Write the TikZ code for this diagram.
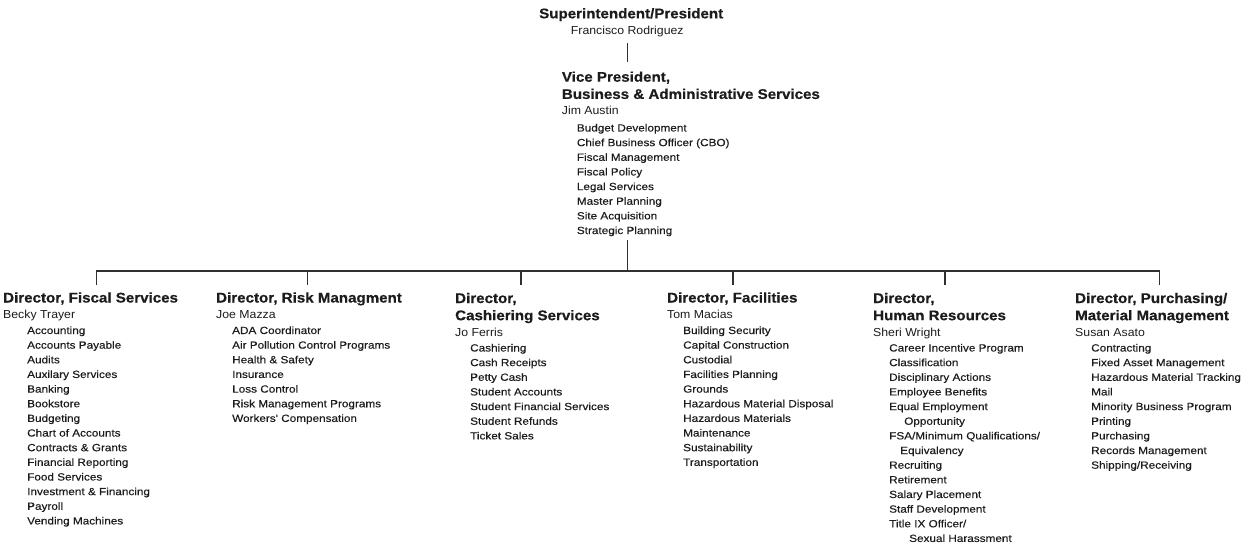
\documentclass[tikz,border=0pt]{standalone}
\usepackage{fontspec}
\setmainfont{Liberation Sans}
\newfontfamily\bossfam[FakeStretch=1.08, BoldFeatures={FakeBold=0.5}]{Liberation Sans}
\newfontfamily\whofam[FakeStretch=1.06]{Liberation Sans}
\newfontfamily\dutyfam[FakeStretch=1.13, FakeBold=0.35]{Liberation Sans}
\definecolor{ink}{HTML}{1C1C1C}
\definecolor{rule}{HTML}{303030}
\newcommand\bossfont{\bossfam\bfseries\fontsize{14}{17.2}\selectfont}
\newcommand\whofont{\whofam\fontsize{11.6}{14}\selectfont}
\newcommand\dutyfont{\dutyfam\fontsize{10.4}{14.65}\selectfont}
% a stack of lines whose baseline is that of its first line
\newcommand\lines[1]{\begin{tabular}[t]{@{}l@{}}#1\end{tabular}}
\tikzset{
  boss/.style={anchor=base west, inner sep=0pt, font=\bossfont, text=ink},
  who/.style={anchor=base west, inner sep=0pt, font=\whofont, text=ink},
  duties/.style={anchor=base west, inner sep=0pt, font=\dutyfont, text=ink},
  link/.style={draw=rule, line width=1.3pt, line join=miter},
}
\begin{document}
\begin{tikzpicture}[x=1pt, y=-1pt]
\useasboundingbox (0,0) rectangle (1258,548);

% Top of the chart
\node[boss] (sup) at (539,18.3) {\lines{Superintendent/President}};
\node[who] (supname) at (570.7,35) {Francisco Rodriguez};

\node[boss] (vp) at (561.7,81.7) {\lines{Vice President,\\Business \& Administrative Services}};
\node[who] (vpname) at (561.7,115) {Jim Austin};
\node[duties] (vpduty) at (576.7,131.5) {\lines{Budget Development\\Chief Business Officer (CBO)\\Fiscal Management\\Fiscal Policy\\Legal Services\\Master Planning\\Site Acquisition\\Strategic Planning}};

% Directors
\node[boss] (d1) at (3,302.5) {\lines{Director, Fiscal Services}};
\node[who] (n1) at (3,318.5) {Becky Trayer};
\node[duties] (u1) at (27,334) {\lines{Accounting\\Accounts Payable\\Audits\\Auxilary Services\\Banking\\Bookstore\\Budgeting\\Chart of Accounts\\Contracts \& Grants\\Financial Reporting\\Food Services\\Investment \& Financing\\Payroll\\Vending Machines}};

\node[boss] (d2) at (216,302.5) {\lines{Director, Risk Managment}};
\node[who] (n2) at (216,318.5) {Joe Mazza};
\node[duties] (u2) at (232,334) {\lines{ADA Coordinator\\Air Pollution Control Programs\\Health \& Safety\\Insurance\\Loss Control\\Risk Management Programs\\Workers' Compensation}};

\node[boss] (d3) at (455,303) {\lines{Director,\\Cashiering Services}};
\node[who] (n3) at (455,336) {Jo Ferris};
\node[duties] (u3) at (470,351.5) {\lines{Cashiering\\Cash Receipts\\Petty Cash\\Student Accounts\\Student Financial Services\\Student Refunds\\Ticket Sales}};

\node[boss] (d4) at (667,302.5) {\lines{Director, Facilities}};
\node[who] (n4) at (667,318.5) {Tom Macias};
\node[duties] (u4) at (683,334) {\lines{Building Security\\Capital Construction\\Custodial\\Facilities Planning\\Grounds\\Hazardous Material Disposal\\Hazardous Materials\\Maintenance\\Sustainability\\Transportation}};

\node[boss] (d5) at (873,303) {\lines{Director,\\Human Resources}};
\node[who] (n5) at (873,336) {Sheri Wright};
\node[duties] (u5) at (889,351.5) {\lines{Career Incentive Program\\Classification\\Disciplinary Actions\\Employee Benefits\\Equal Employment\\\hspace*{15pt}Opportunity\\FSA/Minimum Qualifications/\\\hspace*{11pt}Equivalency\\Recruiting\\Retirement\\Salary Placement\\Staff Development\\Title IX Officer/\\\hspace*{20pt}Sexual Harassment}};

\node[boss] (d6) at (1075,303) {\lines{Director, Purchasing/\\Material Management}};
\node[who] (n6) at (1075,336) {Susan Asato};
\node[duties] (u6) at (1091,351.5) {\lines{Contracting\\Fixed Asset Management\\Hazardous Material Tracking\\Mail\\Minority Business Program\\Printing\\Purchasing\\Records Management\\Shipping/Receiving}};

% Reporting lines
\coordinate (bus) at (627.3,271);
\coordinate (t1) at (96.5,271);
\coordinate (t2) at (307.3,271);
\coordinate (t3) at (521,271);
\coordinate (t4) at (733,271);
\coordinate (t5) at (945,271);
\coordinate (t6) at (1159.3,271);

\draw[link, shorten <=5.6pt, shorten >=7.7pt] (supname.south -| bus) -- (vp.north -| bus);
\draw[link, shorten <=1.6pt] (vpduty.south -| bus) -- (bus);
\draw[link, shorten <=5.5pt, shorten >=5.5pt] (t1 |- d1.north) -- (t1) -- (t6) -- (t6 |- d6.north);
\foreach \k in {2,3,4,5}
  \draw[link, shorten >=5.5pt] (t\k) -- (t\k |- d\k.north);
\end{tikzpicture}
\end{document}
